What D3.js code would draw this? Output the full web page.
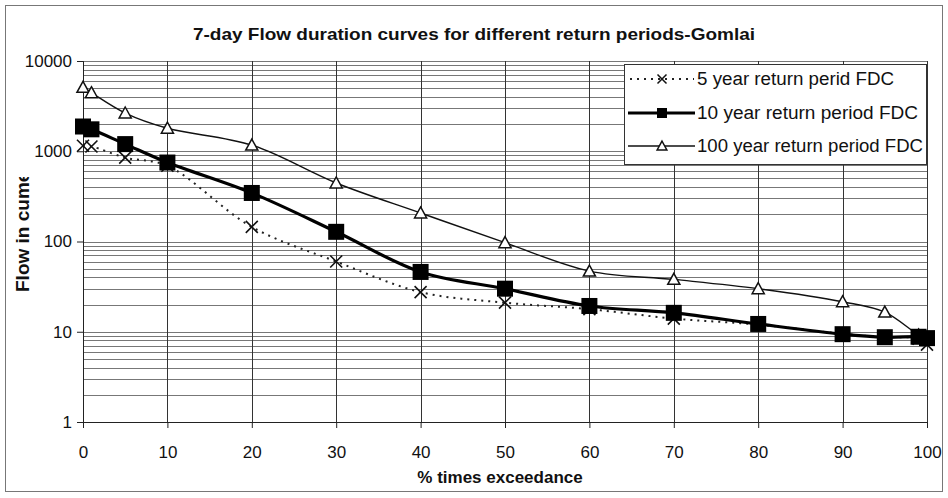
<!DOCTYPE html>
<html>
<head>
<meta charset="utf-8">
<script src="https://cdn.jsdelivr.net/npm/d3@7"></script>
<style>
  html, body { margin: 0; padding: 0; background: #fff; }
  svg { display: block; font-family: "Liberation Sans", Arial, sans-serif; }
</style>
</head>
<body>
<svg id="chart" width="948" height="498"></svg>
<script>
// ---- data ----
const exceedance = [0, 1, 5, 10, 20, 30, 40, 50, 60, 70, 80, 90, 95, 99, 100];
const fdc5   = [1150, 1130, 850, 690, 145, 60, 27.5, 21, 17.8, 14, 12, 9.5, 8.7, 8.4, 7.2];
const fdc10  = [1880, 1750, 1200, 750, 345, 128, 46, 30, 19.3, 16.2, 12.2, 9.4, 8.7, 8.8, 8.5];
const fdc100 = [5100, 4450, 2650, 1800, 1170, 445, 207, 97, 47, 38, 30, 21.5, 16.5, 9.2, 8.3];
const seriesNames = ["5 year return perid FDC", "10 year return period FDC", "100 year return period FDC"];
const xTicks = [0, 10, 20, 30, 40, 50, 60, 70, 80, 90, 100];
const yTicks = [1, 10, 100, 1000, 10000];
const titleText = "7-day Flow duration curves for different return periods-Gomlai";
const xTitle = "% times exceedance";
const yTitle = "Flow in cumec";

// ---- layout ----
const svg = d3.select("#chart");
const L = 83, R = 927, T = 61, B = 422;
const x = d3.scaleLinear().domain([0, 100]).range([L, R]);
const y = d3.scaleLog().domain([1, 10000]).range([B, T]);

// outer frame
svg.append("rect").attr("x", 5.5).attr("y", 5.5).attr("width", 937).attr("height", 486)
  .attr("fill", "#fff").attr("stroke", "#777").attr("stroke-width", 1);

// title
svg.append("text").attr("x", 474).attr("y", 40).attr("text-anchor", "middle")
  .attr("font-size", 17).attr("font-weight", "bold").attr("fill", "#111")
  .attr("textLength", 562).attr("lengthAdjust", "spacingAndGlyphs")
  .text(titleText);

// horizontal minor gridlines
const minor = [];
for (let d = 1; d < 10000; d *= 10) for (let k = 1; k <= 9; k++) minor.push(d * k);
minor.push(10000);
svg.append("g").selectAll("line").data(minor).join("line")
  .attr("x1", L).attr("x2", R)
  .attr("y1", v => Math.round(y(v)) + 0.5).attr("y2", v => Math.round(y(v)) + 0.5)
  .attr("stroke", "#777").attr("stroke-width", 1);

// vertical gridlines
svg.append("g").selectAll("line").data(xTicks).join("line")
  .attr("x1", v => Math.round(x(v)) + 0.5).attr("x2", v => Math.round(x(v)) + 0.5)
  .attr("y1", T).attr("y2", B)
  .attr("stroke", "#333").attr("stroke-width", 1);

// axes
const xAxis = svg.append("g").attr("transform", `translate(0,${B})`)
  .call(d3.axisBottom(x).tickValues(xTicks).tickFormat(d3.format("d")).tickSize(6).tickSizeOuter(0));
xAxis.select(".domain").attr("stroke", "#222");
xAxis.selectAll(".tick line").attr("stroke", "#222");
xAxis.selectAll("text").attr("font-size", 17).attr("fill", "#111").attr("dy", null).attr("y", 36)
  .attr("font-family", "Liberation Sans, Arial, sans-serif");

const yAxis = svg.append("g").attr("transform", `translate(${L},0)`)
  .call(d3.axisLeft(y).tickValues(yTicks).tickFormat(d3.format("d")).tickSize(6).tickSizeOuter(0));
yAxis.select(".domain").attr("stroke", "#222");
yAxis.selectAll(".tick line").attr("stroke", "#222");
yAxis.selectAll("text").attr("font-size", 17).attr("fill", "#111").attr("x", -11)
  .attr("font-family", "Liberation Sans, Arial, sans-serif");

// axis titles
svg.append("text").attr("x", 500).attr("y", 483).attr("text-anchor", "middle")
  .attr("font-size", 17).attr("font-weight", "bold").attr("fill", "#111").text(xTitle);

svg.append("clipPath").attr("id", "ytclip").append("rect")
  .attr("x", 0).attr("y", 177).attr("width", 60).attr("height", 200);
svg.append("g").attr("clip-path", "url(#ytclip)")
  .append("text")
  .attr("transform", "translate(29,292) rotate(-90)")
  .attr("text-anchor", "start")
  .attr("font-size", 19).attr("font-weight", "bold").attr("fill", "#111").text(yTitle);

// series
const curve = d3.curveCatmullRom.alpha(0.5);
const mk = vals => exceedance.map((e, i) => [e, vals[i]]);
const line = d3.line().x(d => x(d[0])).y(d => y(d[1])).curve(curve);
const plot = svg.append("g");

// 100 year
plot.append("path").datum(mk(fdc100)).attr("d", line)
  .attr("fill", "none").attr("stroke", "#111").attr("stroke-width", 1.4);
// 5 year
plot.append("path").datum(mk(fdc5)).attr("d", line)
  .attr("fill", "none").attr("stroke", "#222").attr("stroke-width", 2)
  .attr("stroke-dasharray", "2,5");
// 10 year
plot.append("path").datum(mk(fdc10)).attr("d", line)
  .attr("fill", "none").attr("stroke", "#000").attr("stroke-width", 3.2);

const triPath = s => `M0,${-s*0.55}L${s*0.55},${s*0.45}L${-s*0.55},${s*0.45}Z`;
const xPath = s => `M${-s/2},${-s/2}L${s/2},${s/2}M${-s/2},${s/2}L${s/2},${-s/2}`;

// X markers
plot.append("g").selectAll("path").data(mk(fdc5)).join("path")
  .attr("transform", d => `translate(${x(d[0])},${y(d[1])})`)
  .attr("d", xPath(12)).attr("stroke", "#111").attr("stroke-width", 1.6).attr("fill", "none");
// triangles
plot.append("g").selectAll("path").data(mk(fdc100)).join("path")
  .attr("transform", d => `translate(${x(d[0])},${y(d[1])})`)
  .attr("d", triPath(11)).attr("stroke", "#111").attr("stroke-width", 1.5).attr("fill", "#fff");
// squares
plot.append("g").selectAll("rect").data(mk(fdc10)).join("rect")
  .attr("x", d => x(d[0]) - 8).attr("y", d => y(d[1]) - 8)
  .attr("width", 16).attr("height", 16).attr("fill", "#000");

// legend
const lg = svg.append("g");
lg.append("rect").attr("x", 624.5).attr("y", 64.5).attr("width", 302).attr("height", 100)
  .attr("fill", "#fff").attr("stroke", "#333").attr("stroke-width", 1);
const rowsY = [79, 113, 146];
// row 1 (5 year)
lg.append("line").attr("x1", 630).attr("x2", 694).attr("y1", rowsY[0]).attr("y2", rowsY[0])
  .attr("stroke", "#222").attr("stroke-width", 2).attr("stroke-dasharray", "2,5");
lg.append("path").attr("transform", `translate(662,${rowsY[0]})`).attr("d", xPath(9))
  .attr("stroke", "#111").attr("stroke-width", 1.5).attr("fill", "none");
// row 2 (10 year)
lg.append("line").attr("x1", 628).attr("x2", 695).attr("y1", rowsY[1]).attr("y2", rowsY[1])
  .attr("stroke", "#000").attr("stroke-width", 3.2);
lg.append("rect").attr("x", 657).attr("y", rowsY[1] - 5).attr("width", 10).attr("height", 10).attr("fill", "#000");
// row 3 (100 year)
lg.append("line").attr("x1", 628).attr("x2", 695).attr("y1", rowsY[2]).attr("y2", rowsY[2])
  .attr("stroke", "#111").attr("stroke-width", 1.4);
lg.append("path").attr("transform", `translate(662,${rowsY[2]})`).attr("d", triPath(9))
  .attr("stroke", "#111").attr("stroke-width", 1.4).attr("fill", "#fff");

const legendWidths = [197, 221, 226];
lg.selectAll("text.lt").data(seriesNames).join("text").attr("class", "lt")
  .attr("x", 697).attr("y", (d, i) => rowsY[i] + 6)
  .attr("font-size", 18).attr("fill", "#111")
  .attr("textLength", (d, i) => legendWidths[i]).attr("lengthAdjust", "spacingAndGlyphs")
  .text(d => d);
</script>
</body>
</html>
